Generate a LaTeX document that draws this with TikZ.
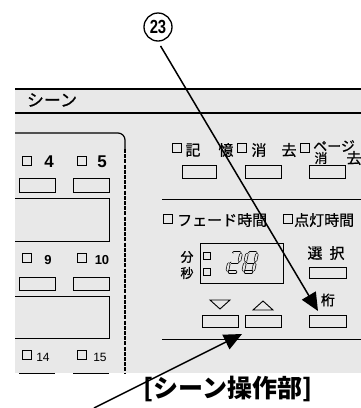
\documentclass[tikz,border=0pt]{standalone}
\usepackage{fontspec}
\setmainfont{Noto Sans CJK JP}
\newfontfamily\jp[FakeBold=0.7]{Noto Sans CJK JP}
\newfontfamily\jpt{Noto Sans CJK JP}
\newfontfamily\lat{Liberation Sans}
\usetikzlibrary{arrows.meta}
\definecolor{stip}{gray}{0.91}
\tikzset{
  lbl/.style={inner sep=0pt, font=\jp\fontsize{15}{15}\selectfont},
  slbl/.style={inner sep=0pt, font=\jp\fontsize{13}{13}\selectfont},
  num/.style={inner sep=0pt, font=\lat\bfseries\fontsize{13}{13}\selectfont},
  bignum/.style={inner sep=0pt, font=\lat\bfseries\fontsize{17}{17}\selectfont},
  chk/.style={draw, line width=0.8pt, minimum size=9pt, inner sep=0pt},
  btn/.style={draw, line width=0.9pt, inner sep=0pt},
  frame/.style={line width=1.2pt},
  thin/.style={line width=0.9pt},
  seg/.style={line width=0.7pt, double=stip, double distance=2pt, line cap=round},
  pointer/.style={line width=1.5pt, -{Triangle[length=18pt,width=16pt]}},
}
\begin{document}
\begin{tikzpicture}[x=1pt,y=-1pt]
\useasboundingbox (0,0) rectangle (361,408);
% stippled panel background
\fill[stip] (15,89) rectangle (361,373);
% header band
\draw[frame] (15,89) -- (361,89);
\draw[frame] (15,113) -- (361,113);
\node[slbl, font=\jp\fontsize{17}{17}\selectfont] (scene) at (52,100) {シーン};
% left rounded panel
\draw[frame, rounded corners=7pt] (15,133) -- (125,133) -- (125,150);
\draw[frame, dash pattern=on 4pt off 1.2pt] (125,149) -- (125,373);
% left panel contents
\node[chk] (k4) at (27,161) {};
\node[bignum] (n4) at (49,162) {4};
\node[chk] (k5) at (82,161) {};
\node[bignum] (n5) at (102,162) {5};
\node[btn, minimum width=36pt, minimum height=14pt] (b4) at (37,185) {};
\node[btn, minimum width=36pt, minimum height=14pt] (b5) at (91,185) {};
\draw[thin] (15,198) -- (109,198) -- (109,241) -- (15,241);
\node[chk] (k9) at (27,258) {};
\node[num] (n9) at (48,260) {9};
\node[chk] (k10) at (82,258) {};
\node[num] (n10) at (102,260) {10};
\node[btn, minimum width=36pt, minimum height=13pt] (b9) at (37,283.5) {};
\node[btn, minimum width=36pt, minimum height=13pt] (b10) at (91,283.5) {};
\draw[thin] (15,296) -- (109,296) -- (109,338) -- (15,338);
\node[chk] (k14) at (27,355) {};
\node[num, font=\lat\fontsize{12}{12}\selectfont] (n14) at (43,357) {14};
\node[chk] (k15) at (82,355) {};
\node[num, font=\lat\fontsize{12}{12}\selectfont] (n15) at (100,357) {15};
\draw[thin] (19,373) -- (55,373);
\draw[thin] (73,373) -- (109,373);
% right: memory row
\node[chk] (kmem) at (177,148) {};
\node[lbl] (ki) at (193,150) {記};
\node[lbl] (oku) at (226,150) {憶};
\node[chk] (kdel) at (242,148) {};
\node[lbl] (sho) at (259,150) {消};
\node[lbl] (kyo) at (289,150) {去};
\node[chk] (kpg) at (305,148) {};
\node[slbl, anchor=west, font=\jp\fontsize{14}{14}\selectfont] (page) at (313,146) {ページ};
\node[slbl] (psho) at (321,158) {消};
\node[lbl] (pkyo) at (354,158) {去};
\node[btn, minimum width=34pt, minimum height=13pt] (bmem) at (199,171.5) {};
\node[btn, minimum width=36pt, minimum height=13pt] (bdel) at (263,171.5) {};
\node[btn, minimum width=36pt, minimum height=13pt] (bpg) at (327,171.5) {};
\draw[thin] (162,199) -- (361,199);
% fade / on time
\node[chk] (kfade) at (168,219) {};
\node[lbl, anchor=west] (fade) at (177,220) {フェード時間};
\node[chk] (kon) at (288,219) {};
\node[lbl, anchor=west] (ontime) at (294,220) {点灯時間};
% display
\node[btn, minimum width=83pt, minimum height=40pt] (disp) at (241.5,263) {};
\node[slbl] (fun) at (187,257) {分};
\node[slbl] (byo) at (187,273) {秒};
\node[draw, line width=0.7pt, minimum size=6.5pt, inner sep=0pt] (kfun) at (207,256) {};
\node[draw, line width=0.7pt, minimum size=6.5pt, inner sep=0pt] (kbyo) at (207,272) {};
% 7-segment "28"
\begin{scope}[shift={(227,272)}, xslant=0.22]
  \draw[seg] (2.5,-19.5) -- (8.5,-19.5);
  \draw[seg] (10,-17.5) -- (10,-11.5);
  \draw[seg] (2.5,-9.8) -- (8.5,-9.8);
  \draw[seg] (0,-8) -- (0,-2);
  \draw[seg] (2.5,0) -- (8.5,0);
\end{scope}
\begin{scope}[shift={(243,272)}, xslant=0.22]
  \draw[seg] (2.5,-19.5) -- (8.5,-19.5);
  \draw[seg] (10,-17.5) -- (10,-11.5);
  \draw[seg] (10,-8) -- (10,-2);
  \draw[seg] (2.5,0) -- (8.5,0);
  \draw[seg] (0,-8) -- (0,-2);
  \draw[seg] (0,-17.5) -- (0,-11.5);
  \draw[seg] (2.5,-9.8) -- (8.5,-9.8);
\end{scope}
% select
\node[lbl] (sen) at (315,253) {選};
\node[lbl] (taku) at (337,253) {択};
\node[btn, minimum width=37pt, minimum height=11pt] (bsel) at (327.5,272.5) {};
\node[lbl, font=\jp\fontsize{14}{14}\selectfont] (keta) at (328,300) {桁};
\node[btn, minimum width=37pt, minimum height=12pt] (bketa) at (327.5,321) {};
% up/down
\draw[thin] (210,300) -- (230,300) -- (220,309) -- cycle;
\draw[thin] (253,310) -- (273,310) -- (263,301) -- cycle;
\node[btn, minimum width=36pt, minimum height=12pt] (bdown) at (220,321) {};
\node[btn, minimum width=36pt, minimum height=12pt] (bup) at (263,321) {};
\draw[thin] (162,339) -- (361,339);
% callouts
\node[circle, draw, line width=1.3pt, minimum size=28pt, inner sep=0pt,
      font=\lat\bfseries\fontsize{19}{19}\selectfont] (c23) at (158,27) {\scalebox{0.78}[1]{23}};
\coordinate (tip1) at (318,311);
\draw[pointer, shorten <=5pt] (c23.south) -- (tip1);
\coordinate (src2) at (94,408);
\coordinate (tip2) at (242,334);
\draw[pointer] (src2) -- (tip2);
\node[inner sep=0pt, font=\jpt\bfseries\fontsize{25}{25}\selectfont] (title) at (228,389) {[シーン操作部]};
\end{tikzpicture}
\end{document}
